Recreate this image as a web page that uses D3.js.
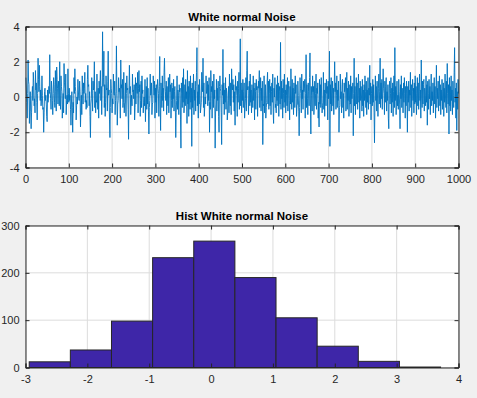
<html>
<head>
<meta charset="utf-8">
<title>White normal Noise</title>
<style>
  body { margin: 0; background: #f0f0f0; }
  svg { display: block; font-family: "Liberation Sans", Arial, sans-serif; }
  .tick text { fill: #262626; font-size: 11px; }
</style>
<script src="https://d3js.org/d3.v7.min.js"></script>
</head>
<body>
<svg width="477" height="398"></svg>
<script>
// noise samples (1000 points)
var noise = [
 1.1,0.4,-0.3,-1.2,0.2,2.1,0.9,0.7,-1.5,-0.4,0.3,-0.8,-1.8,-0.9,0.1,0.6,-0.2,1.4,0.8,-0.5,
 -0.1,-0.9,1.5,0.4,0.8,-0.3,-1.3,0.2,2.2,1.0,0.3,1.8,0.6,-0.2,0.4,-0.5,-0.1,1.2,0.1,-0.7,
 -0.6,-2.0,-0.9,0.3,0.5,-0.2,0.1,-0.4,-1.1,-1.4,0.4,-0.3,0.0,0.6,0.2,2.4,0.3,-0.1,-0.7,0.9,
 0.4,-0.2,-1.0,0.2,1.1,0.7,-0.3,-0.6,1.5,0.3,-0.8,1.7,1.0,0.5,-0.4,0.9,0.4,-0.5,2.0,0.1,
 -0.7,1.2,0.6,0.3,-1.2,-0.4,0.2,-0.9,1.9,0.8,0.5,-0.1,1.3,-1.0,-0.2,0.1,-0.4,1.6,0.2,-0.3,
 0.5,-0.2,0.1,-0.7,-1.6,-0.4,0.3,-0.6,-2.0,-0.3,-0.9,1.1,0.2,1.6,0.6,0.3,-1.3,-0.5,0.0,-0.4,
 1.0,0.4,-0.1,-0.2,0.9,0.3,-1.7,-0.6,0.1,-1.0,1.2,0.3,-0.4,0.8,0.2,0.5,1.4,-0.3,0.2,-0.7,
 -0.2,-0.6,1.0,1.8,0.6,0.7,-0.5,0.3,-1.1,-2.3,-0.4,-0.1,1.1,0.2,-0.8,0.9,0.4,0.5,2.0,-0.6,
 0.3,-0.9,-0.2,-0.3,1.3,0.0,-0.7,0.5,-1.2,0.9,0.2,0.7,1.5,-0.2,0.6,-1.0,0.4,3.7,0.6,1.1,
 2.6,-0.6,0.7,-1.1,-0.3,1.2,0.4,0.5,-0.8,0.9,2.6,0.1,0.4,-1.3,-2.3,-0.6,1.0,0.5,0.2,-0.9,
 -0.1,-0.4,1.3,0.2,0.1,0.9,-1.0,-0.2,0.3,2.9,0.2,-1.6,-0.4,-0.2,1.1,0.3,0.5,0.0,-1.2,2.1,
 0.5,0.7,-0.1,1.0,-0.6,-0.3,1.4,-0.9,-0.4,-0.3,0.8,-1.1,0.2,1.2,0.4,0.5,-0.7,-2.4,0.4,1.8,
 0.2,0.6,-1.0,-0.3,0.1,-0.5,1.3,0.3,0.4,-0.1,0.7,-1.3,-0.6,1.1,-0.4,0.8,0.6,0.2,1.4,-0.9,
 0.5,1.5,0.3,0.7,-1.1,-0.2,0.9,-0.6,1.2,0.2,0.4,-0.9,-0.3,0.0,-0.5,1.0,-1.4,-0.3,0.6,-0.7,
 1.1,-0.4,0.5,-0.8,-2.1,-0.6,-0.2,1.3,0.1,0.2,0.8,-1.0,-0.4,-0.3,1.2,0.7,0.1,0.9,-1.2,0.5,
 -0.3,0.7,-0.9,0.4,1.0,0.5,0.2,-1.1,0.6,2.3,-0.4,-1.9,0.8,0.1,-0.6,1.2,-0.2,0.5,-0.8,1.4,
 2.2,0.7,0.3,-0.2,0.9,-1.0,0.6,0.0,-0.5,1.1,-0.9,0.4,1.3,0.3,0.7,-1.2,-0.2,0.8,-0.6,0.5,
 -0.1,1.0,-0.8,0.3,0.6,-0.4,-2.3,-0.9,-0.2,1.2,-0.7,0.4,0.1,-1.0,0.7,0.3,0.5,-1.3,-2.9,0.8,
 0.2,-0.6,1.1,-0.3,1.6,-0.9,-0.4,0.7,-0.5,1.0,-0.1,0.3,-1.5,1.5,-0.4,0.6,-1.1,0.9,0.0,-0.7,
 1.2,-0.3,0.5,-2.8,0.8,-0.6,0.2,1.3,-1.0,0.4,-0.2,0.9,-0.8,0.6,1.4,2.8,-0.5,0.3,-1.2,0.7,
 -0.4,1.0,0.1,-0.9,-0.6,-0.3,1.4,0.7,0.3,2.2,-0.6,0.8,-1.1,-0.5,0.0,-0.4,1.2,0.2,0.4,0.9,
 -0.5,0.7,-0.2,1.1,-2.0,-0.3,-0.7,1.5,0.3,0.6,-1.2,0.9,0.2,-0.6,1.3,-0.1,0.4,-2.9,-0.8,-0.4,
 1.0,-0.8,0.5,-0.2,0.9,-1.1,-2.0,0.6,1.2,0.5,0.3,-0.9,-2.7,0.7,0.1,2.7,-0.4,0.8,-1.0,0.4,
 -0.3,1.1,-0.7,0.5,0.2,-1.3,-0.9,-0.2,0.6,-0.9,1.3,0.0,-0.5,0.8,-1.0,1.6,0.6,0.4,1.0,-0.3,
 0.7,-0.8,0.3,-1.6,1.2,0.4,0.6,0.1,-1.1,0.9,-0.3,0.5,1.4,-0.7,0.2,3.3,-0.5,0.8,-0.9,0.4,
 -0.2,1.0,-0.6,0.3,0.8,-1.2,-0.5,-0.1,1.1,-0.8,1.5,2.6,0.4,0.6,-1.0,0.2,0.9,-0.5,1.3,-0.3,
 0.4,-0.9,0.7,0.0,-0.6,1.2,-0.2,0.5,-1.3,0.8,0.3,-0.7,1.0,0.4,0.6,-1.1,0.2,0.9,0.5,1.5,
 -0.6,0.3,1.1,-0.8,0.5,-0.2,0.9,-2.7,-0.4,-0.5,1.2,-0.9,0.1,0.7,-1.2,-0.6,-0.3,0.8,1.4,-0.4,
 0.9,-0.7,0.2,1.0,-0.5,0.6,-1.0,0.3,0.8,-0.3,1.3,-0.8,-1.5,0.5,0.0,1.1,-0.6,-0.4,-0.9,0.7,
 -0.2,1.2,-0.5,0.8,-1.1,0.3,0.6,-0.4,3.1,-0.7,0.9,-0.1,0.5,-1.2,1.0,0.2,-0.6,1.3,-0.3,0.4,
 -0.9,0.7,0.1,-0.5,1.1,-0.8,0.4,0.9,-0.2,-1.3,0.6,-0.4,1.6,0.0,-0.7,1.0,-0.3,0.5,-1.0,0.8,
 0.3,-0.6,1.2,0.2,0.7,-1.1,-0.5,-0.4,0.9,0.1,-0.8,-2.2,-0.6,1.1,0.5,0.2,-0.9,1.3,-0.1,0.4,
 -0.7,0.9,0.3,0.5,1.0,-1.2,0.2,2.4,-0.6,0.7,-0.1,-1.0,0.8,0.3,-0.5,1.1,2.5,-0.4,-2.1,0.6,
 0.1,-0.8,1.2,0.3,0.6,-1.0,-0.4,0.9,-0.5,0.2,1.3,-0.7,0.5,0.2,0.8,-1.2,-0.3,-1.7,1.0,-0.4,
 0.7,-0.6,1.1,0.0,-0.9,-0.5,-0.3,1.4,-0.7,0.4,-1.1,0.8,0.2,-0.5,1.0,0.2,0.6,-1.3,0.9,-0.1,
 0.3,2.6,-2.8,0.7,-0.4,1.1,-0.8,0.2,0.9,-0.5,0.5,-1.0,0.6,2.0,0.3,0.8,-0.7,0.1,1.2,-0.6,
 0.4,-0.2,0.9,-2.0,-0.6,-0.5,1.3,-0.1,0.3,-0.9,0.7,1.0,-0.6,0.2,-1.2,0.8,0.3,0.5,1.1,-0.8,
 0.0,1.4,-0.7,0.5,-0.2,0.9,-1.1,-0.3,0.7,-0.4,1.2,-0.9,0.6,-0.1,0.4,0.8,-2.2,0.2,2.2,-0.5,
 0.6,-1.0,0.3,1.1,-0.4,0.8,-0.7,0.1,1.3,-0.3,0.5,-1.2,0.9,-0.2,0.6,0.0,-0.8,1.0,-0.5,0.4,
 -1.1,0.7,-0.2,1.2,0.3,-0.6,0.9,-1.0,0.4,-0.3,1.1,-0.7,0.5,0.1,1.8,-0.4,0.8,-1.3,0.2,0.6,
 -0.5,1.0,-0.3,0.7,-0.9,-2.6,-0.4,1.2,-0.2,0.6,-0.8,0.9,0.0,-1.1,0.5,1.3,-0.4,0.3,2.2,-0.6,
 0.8,-0.1,1.0,-0.7,0.4,1.6,0.5,0.2,-1.0,0.9,-0.3,0.6,1.1,-0.8,0.3,-0.2,0.7,-1.2,-1.8,0.5,
 0.9,-0.4,0.2,1.1,-0.9,0.5,-0.3,0.8,-1.1,0.3,1.2,-0.6,2.8,-0.2,0.6,-1.0,0.4,0.9,-0.5,0.1,
 -0.7,1.0,0.3,-0.4,-1.8,0.7,-0.1,1.2,-0.6,0.5,0.0,-0.9,0.8,-0.3,1.1,0.2,-1.2,0.6,-0.5,0.9,
 0.2,-2.0,0.6,-0.3,0.9,-0.8,0.4,0.1,1.4,-0.6,0.7,-1.1,0.3,1.0,-0.2,0.5,-0.9,0.8,-0.4,1.2,
 -0.3,0.6,-1.0,0.2,1.1,-0.5,0.8,-0.7,0.3,1.3,-0.2,0.4,-1.2,2.1,0.0,-0.6,0.9,-0.4,0.7,1.0,
 -0.8,0.5,0.1,-0.5,1.2,-0.3,0.7,-1.6,0.9,0.2,-0.7,1.0,-0.1,0.6,-1.0,0.4,1.3,-0.5,0.3,-0.2,
 0.8,-0.9,0.4,1.1,-0.4,0.6,-1.2,0.2,1.8,-0.6,0.5,-0.1,0.9,-0.8,0.3,1.2,-0.5,0.7,-1.0,0.4,
 -0.2,1.0,-0.7,0.3,0.8,-1.1,0.5,-0.3,1.3,0.0,-0.6,0.9,-0.9,1.9,0.2,-0.4,0.7,-2.1,1.1,-0.5,
 0.6,-0.8,1.2,-0.2,0.4,-1.0,0.9,0.1,-0.6,1.4,2.8,-0.3,0.5,-1.2,0.8,-1.9,0.3,-0.7,1.0,0.2
];

// histogram
var binEdges = [-2.94,-2.275,-1.61,-0.945,-0.28,0.385,1.05,1.715,2.38,3.045,3.71];
var binCounts = [12,37,98,232,267,190,105,45,13,1];

var noiseXTicks = [0,100,200,300,400,500,600,700,800,900,1000];
var noiseYTicks = [-4,-2,0,2,4];
var histXTicks = [-3,-2,-1,0,1,2,3,4];
var histYTicks = [0,100,200,300];

var svg = d3.select("svg");
var plain = d => String(d);   // hyphen minus like the original, not d3's unicode minus

// draws a MATLAB-like axes box with grid, inward ticks on all four sides
function makeAxes(box, xs, ys, xt, yt, title) {
    var g = svg.append("g");
    g.append("rect")
        .attr("x", box.left).attr("y", box.top)
        .attr("width", box.right - box.left).attr("height", box.bottom - box.top)
        .attr("fill", "#fff");

    // grid
    g.selectAll(".gx").data(xt).enter().append("line")
        .attr("x1", d => xs(d)).attr("x2", d => xs(d))
        .attr("y1", box.top).attr("y2", box.bottom)
        .attr("stroke", "#dcdcdc").attr("stroke-width", 1);
    g.selectAll(".gy").data(yt).enter().append("line")
        .attr("x1", box.left).attr("x2", box.right)
        .attr("y1", d => ys(d)).attr("y2", d => ys(d))
        .attr("stroke", "#dcdcdc").attr("stroke-width", 1);

    var plot = svg.append("g");

    var ax = svg.append("g");
    ax.append("g").attr("transform", `translate(0,${box.bottom})`)
        .call(d3.axisBottom(xs).tickValues(xt).tickSize(-4).tickPadding(8).tickFormat(plain));
    ax.append("g").attr("transform", `translate(0,${box.top})`)
        .call(d3.axisTop(xs).tickValues(xt).tickSize(-4).tickFormat(""));
    ax.append("g").attr("transform", `translate(${box.left},0)`)
        .call(d3.axisLeft(ys).tickValues(yt).tickSize(-4).tickPadding(6).tickFormat(plain));
    ax.append("g").attr("transform", `translate(${box.right},0)`)
        .call(d3.axisRight(ys).tickValues(yt).tickSize(-4).tickFormat(""));
    ax.selectAll(".domain").attr("stroke", "#262626");
    ax.selectAll(".tick line").attr("stroke", "#262626");
    ax.selectAll(".tick text").attr("font-family", "'Liberation Sans', Arial, sans-serif");

    svg.append("text")
        .attr("x", (box.left + box.right) / 2).attr("y", box.top - 6)
        .attr("text-anchor", "middle")
        .attr("font-size", "11.5px").attr("font-weight", "bold").attr("fill", "#000")
        .text(title);
    return {plot: plot, ax: ax};
}

// top: noise line
var box1 = {left: 25.5, right: 458.5, top: 26.5, bottom: 167.5};
var x1 = d3.scaleLinear().domain([0, 1000]).range([box1.left, box1.right]);
var y1 = d3.scaleLinear().domain([-4, 4]).range([box1.bottom, box1.top]);
var a1 = makeAxes(box1, x1, y1, noiseXTicks, noiseYTicks, "White normal Noise");

var line = d3.line().x((d, i) => x1(i + 1)).y(d => y1(d));
a1.plot.append("path")
    .datum(noise)
    .attr("d", line)
    .attr("fill", "none")
    .attr("stroke", "#0072bd")
    .attr("stroke-width", 0.9);
a1.ax.raise();

// bottom: histogram
var box2 = {left: 25.5, right: 458.5, top: 225.5, bottom: 367.5};
var x2 = d3.scaleLinear().domain([-3, 4]).range([box2.left, box2.right]);
var y2 = d3.scaleLinear().domain([0, 300]).range([box2.bottom, box2.top]);
var a2 = makeAxes(box2, x2, y2, histXTicks, histYTicks, "Hist White normal Noise");

a2.plot.selectAll("rect").data(binCounts).enter().append("rect")
    .attr("x", (d, i) => x2(binEdges[i]))
    .attr("width", (d, i) => x2(binEdges[i + 1]) - x2(binEdges[i]))
    .attr("y", d => y2(d))
    .attr("height", d => y2(0) - y2(d))
    .attr("fill", "#3e26a8")
    .attr("stroke", "#262626")
    .attr("stroke-width", 1);
a2.ax.raise();
</script>
</body>
</html>
